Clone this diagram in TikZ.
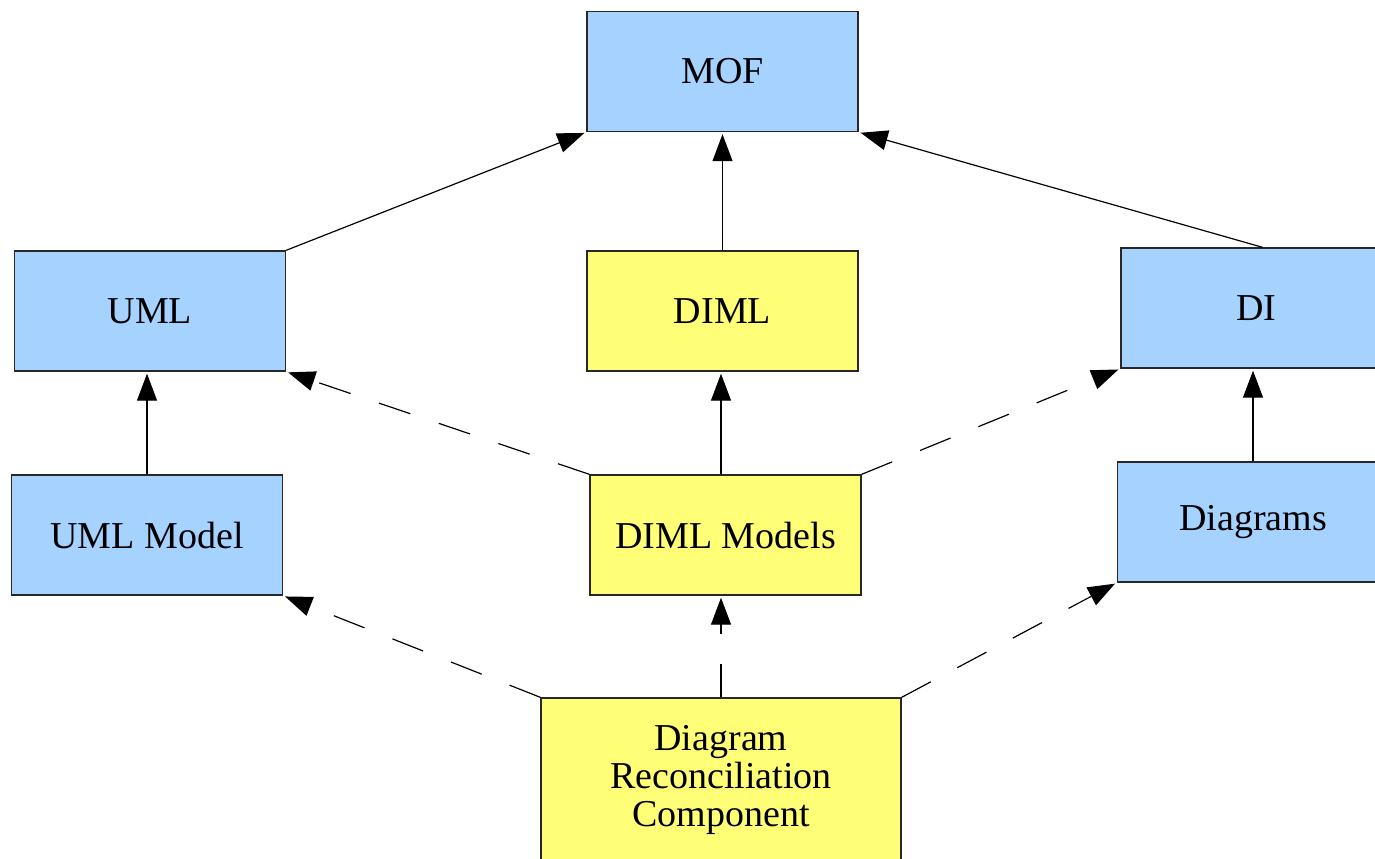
\documentclass[tikz,border=0pt]{standalone}
\usepackage{fontspec}
\setmainfont{Liberation Serif}
\usetikzlibrary{arrows.meta}

\definecolor{metablue}{RGB}{166,210,255}
\definecolor{modelyellow}{RGB}{255,255,119}
\definecolor{edgegray}{RGB}{40,40,40}

\tikzset{
  box/.style={draw=edgegray, line width=0.7pt, inner sep=0pt,
    minimum width=135.5pt, minimum height=60pt, align=center,
    font=\fontsize{19pt}{18.8pt}\selectfont},
  bluebox/.style={box, fill=metablue},
  yellowbox/.style={box, fill=modelyellow},
  link/.style={draw=black, line width=0.6pt,
    -{Triangle[length=13.5pt,width=10pt]}, shorten >=1pt},
  dashlink/.style={link, dash pattern=on 16.5pt off 15pt},
}

\begin{document}
\begin{tikzpicture}[x=0.5pt, y=-0.5pt]
  \clip (0,0) rectangle (1375,858);
  \fill[white] (0,0) rectangle (1375,858);

  % metamodel level
  \node[bluebox]   (mof)   at (722.5,71.5) {MOF};
  \node[bluebox]   (uml)   at (150,311)    {UML};
  \node[yellowbox] (diml)  at (722.5,311)  {DIML};
  \node[bluebox]   (di)    at (1256.5,308) {DI};

  % model level
  \node[bluebox]   (umlm)  at (147,535)    {UML Model};
  \node[yellowbox] (dimlm) at (725.5,535)  {DIML Models};
  \node[bluebox]   (diag)  at (1253,522)   {Diagrams};

  % reconciliation component
  \node[yellowbox, minimum width=180pt, minimum height=82pt]
        (drc) at (721,780) {Diagram\\Reconciliation\\Component};

  % instance-of relations
  \draw[link] (uml.north east) -- (mof.south west);
  \draw[link] (diml.north) -- (mof.south);
  \draw[link] ([xshift=3pt]di.north) -- (mof.south east);
  \draw[link] (umlm.north) -- (uml.south -| umlm.north);
  \draw[link] (drc.north |- dimlm.north) -- (drc.north |- diml.south);
  \draw[link] (diag.north) -- (di.south -| diag.north);

  % dependencies
  \draw[dashlink] (dimlm.north west) -- (uml.south east);
  \draw[dashlink] (dimlm.north east) -- (di.south west);
  \draw[dashlink] (drc.north west) -- (umlm.south east);
  \draw[dashlink] (drc.north) -- (drc.north |- dimlm.south);
  \draw[dashlink] (drc.north east) -- (diag.south west);
\end{tikzpicture}
\end{document}
